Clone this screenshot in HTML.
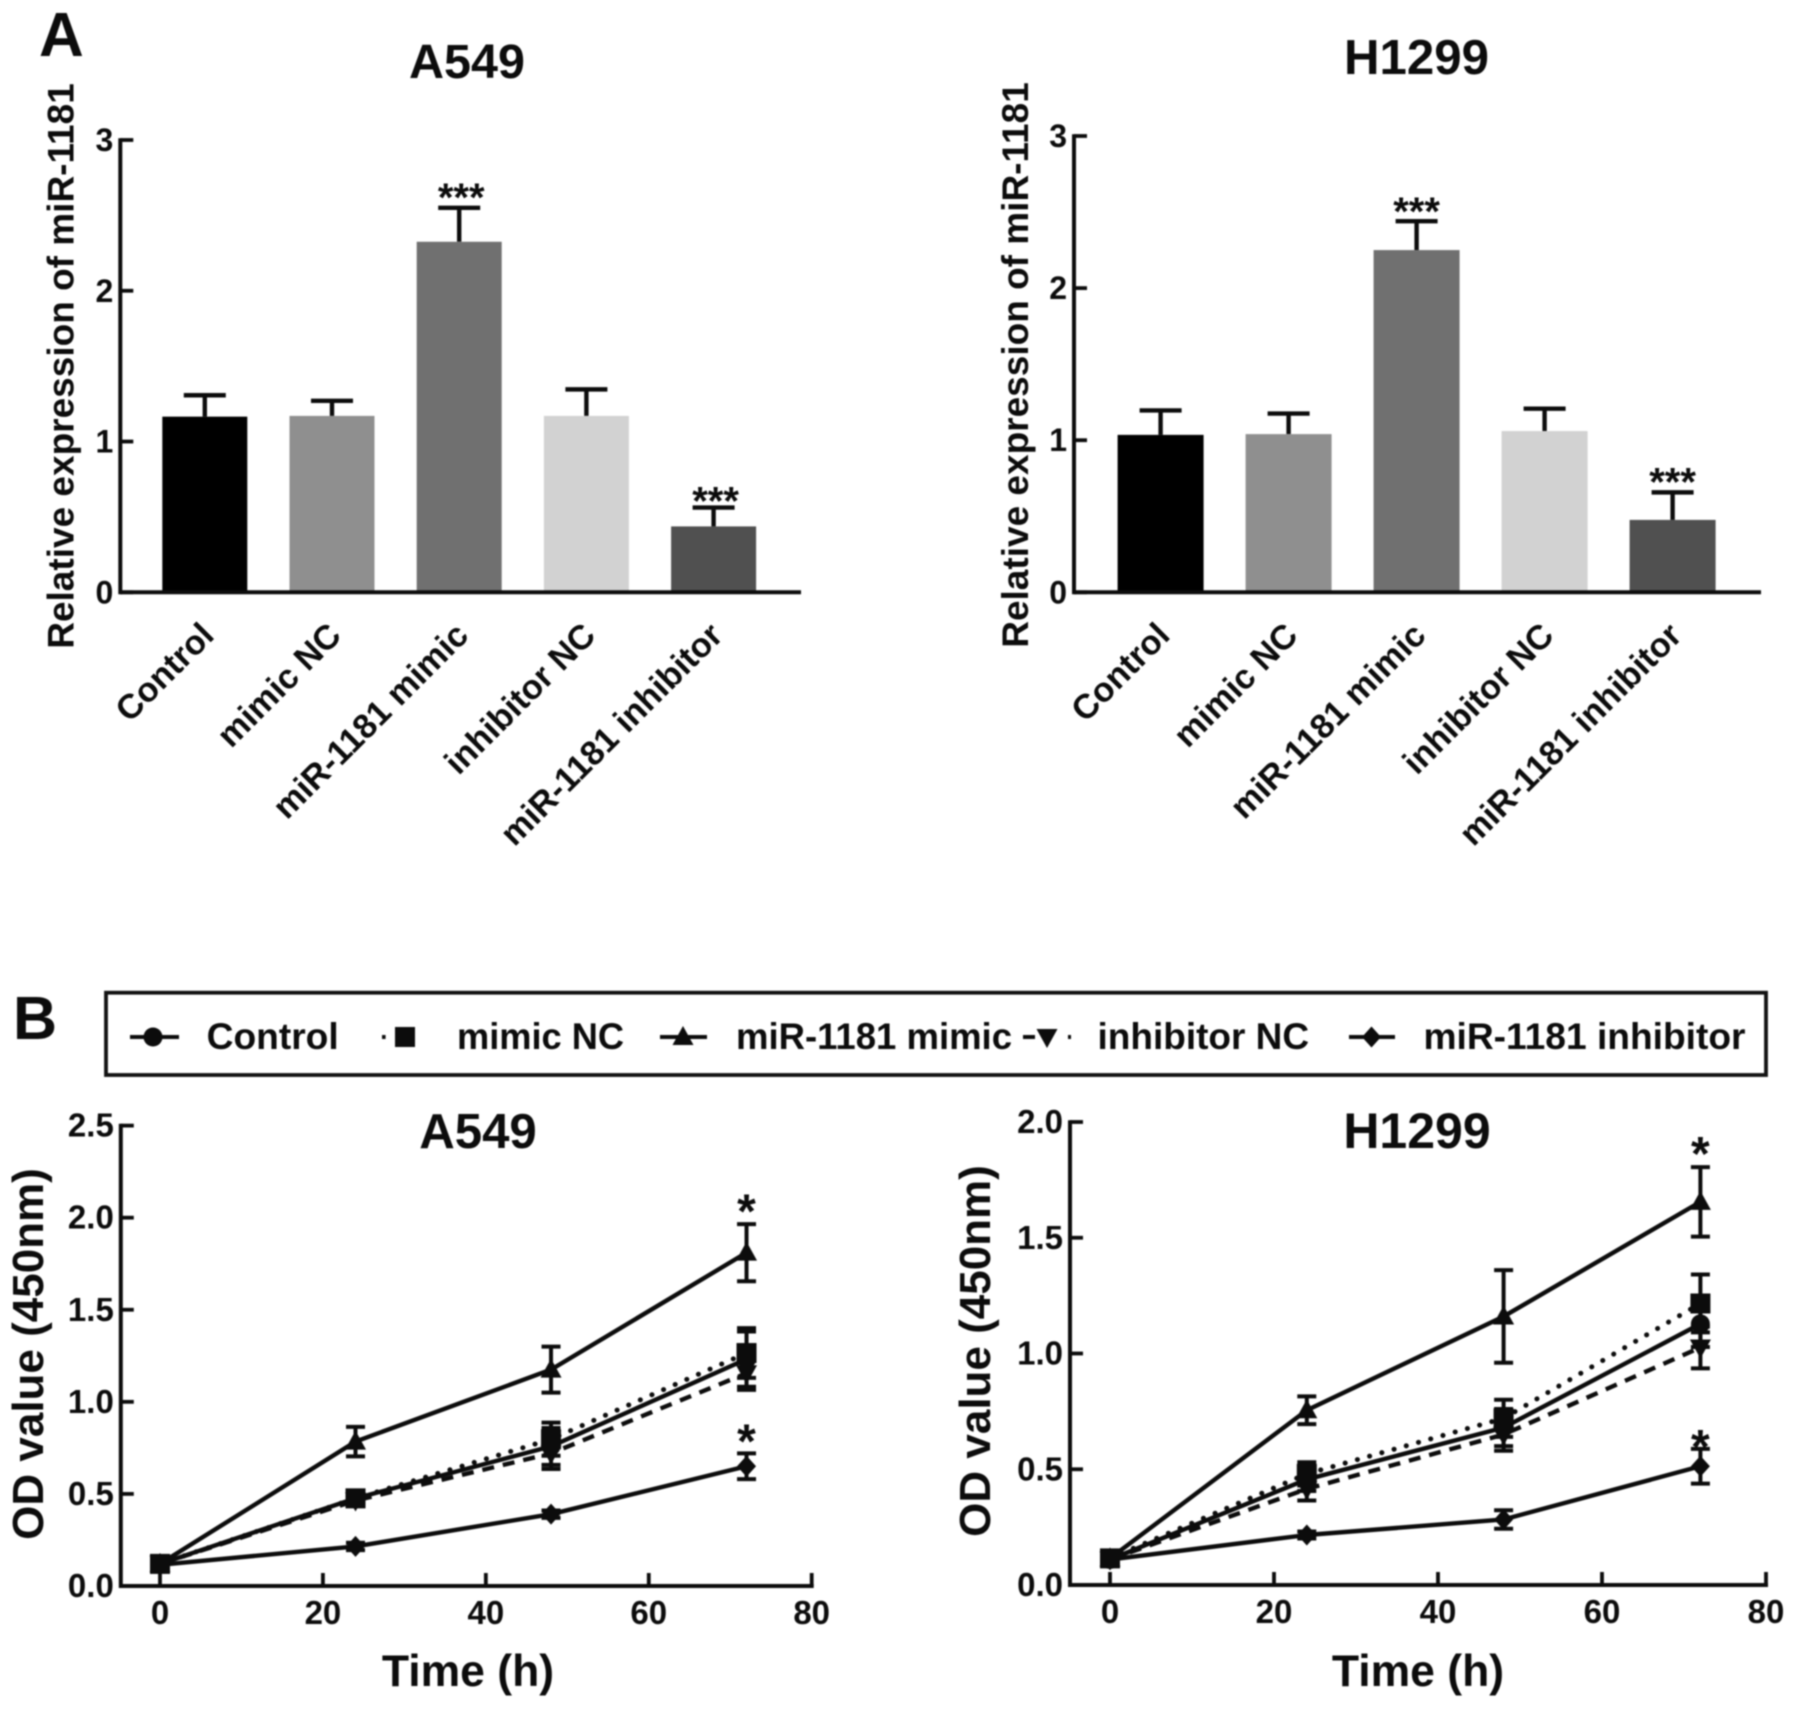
<!DOCTYPE html>
<html lang="en">
<head>
<meta charset="utf-8">
<title>miR-1181 expression and OD value charts</title>
<style>
  html, body { margin: 0; padding: 0; background: #fff; }
  #figure { display: block; filter: blur(0.7px); }
  text { font-family: "Liberation Sans", sans-serif; font-weight: bold; fill: #0c0c0c; }
</style>
</head>
<body>
<svg id="figure" xmlns="http://www.w3.org/2000/svg" width="1795" height="1709" viewBox="0 0 1795 1709">
  <rect x="0" y="0" width="1795" height="1709" fill="#fff"/>
  <text x="39" y="56" font-size="62">A</text>
  <text x="13" y="1039" font-size="61">B</text>

  <text x="467" y="78" font-size="48.5" text-anchor="middle">A549</text>
  <text x="1416.5" y="74" font-size="49.2" text-anchor="middle">H1299</text>
  <text x="478" y="1148" font-size="49.2" text-anchor="middle">A549</text>
  <text x="1417" y="1148" font-size="50" text-anchor="middle">H1299</text>

  <text transform="translate(73.5 366) rotate(-90)" font-size="37" text-anchor="middle">Relative expression of miR-1181</text>
  <text transform="translate(1028 365) rotate(-90)" font-size="37" text-anchor="middle">Relative expression of miR-1181</text>
  <text transform="translate(43 1354) rotate(-90)" font-size="44" text-anchor="middle">OD value (450nm)</text>
  <text transform="translate(990 1351) rotate(-90)" font-size="44" text-anchor="middle">OD value (450nm)</text>
  <text x="468" y="1686" font-size="44.5" text-anchor="middle">Time (h)</text>
  <text x="1418" y="1686" font-size="44.5" text-anchor="middle">Time (h)</text>

  <g>
    <rect x="106" y="992.7" width="1660" height="82.3" fill="none" stroke="#111" stroke-width="3.8"/>
    <g id="legend-entries"></g>
  </g>
  <g id="charts"></g>
</svg>

<script>
// ---- Bar chart data (panel A) ----
const barCategories = ['Control', 'mimic NC', 'miR-1181 mimic', 'inhibitor NC', 'miR-1181 inhibitor'];
const a549BarMeans = [1.165, 1.17, 2.325, 1.17, 0.437];
const a549BarErrors = [0.142, 0.1, 0.225, 0.176, 0.125];
const h1299BarMeans = [1.035, 1.04, 2.25, 1.06, 0.476];
const h1299BarErrors = [0.161, 0.135, 0.19, 0.147, 0.181];
const barTickLabels = [0, 1, 2, 3];
const a549BarStars = [null, null, 2.655, null, 0.64];
const h1299BarStars = [null, null, 2.54, null, 0.76];

// ---- Line chart data (panel B) ----
const timePoints = [0, 24, 48, 72];
const seriesNames = ['Control', 'mimic NC', 'miR-1181 mimic', 'inhibitor NC', 'miR-1181 inhibitor'];

const a549Control = [0.12, 0.476, 0.758, 1.232];
const a549MimicNC = [0.12, 0.476, 0.797, 1.265];
const a549Mimic = [0.12, 0.784, 1.175, 1.81];
const a549InhibitorNC = [0.12, 0.464, 0.72, 1.155];
const a549Inhibitor = [0.115, 0.215, 0.39, 0.65];
const a549ControlErr = [0.02, 0.03, 0.1, 0.15];
const a549MimicNCErr = [0.02, 0.03, 0.09, 0.135];
const a549MimicErr = [0.02, 0.08, 0.125, 0.155];
const a549InhibitorNCErr = [0.02, 0.03, 0.085, 0.09];
const a549InhibitorErr = [0.01, 0.02, 0.02, 0.07];
const a549LineStars = [null, null, 2.07, null, 0.82];

const h1299Control = [0.11, 0.456, 0.68, 1.128];
const h1299MimicNC = [0.115, 0.48, 0.72, 1.216];
const h1299Mimic = [0.115, 0.755, 1.16, 1.655];
const h1299InhibitorNC = [0.11, 0.415, 0.65, 1.026];
const h1299Inhibitor = [0.11, 0.216, 0.283, 0.513];
const h1299ControlErr = [0.02, 0.05, 0.08, 0.1];
const h1299MimicNCErr = [0.02, 0.05, 0.08, 0.125];
const h1299MimicErr = [0.02, 0.06, 0.2, 0.15];
const h1299InhibitorNCErr = [0.02, 0.05, 0.07, 0.09];
const h1299InhibitorErr = [0.01, 0.015, 0.04, 0.075];
const h1299LineStars = [null, null, null, null, 0.625];
const h1299TopStar = 1.89;

const odTickLabelsA549 = [0, 0.5, 1, 1.5, 2, 2.5];
const odTickLabelsH1299 = [0, 0.5, 1, 1.5, 2];
const timeTickLabels = [0, 20, 40, 60, 80];

// ---- Styles (not data) ----
const barFills = ['#000000', '#8f8f8f', '#707070', '#d2d2d2', '#505050'];
const seriesDash = ['', '0.1 12.6', '', '12 9', ''];
const seriesCap = ['butt', 'round', 'butt', 'butt', 'butt'];
const seriesShape = ['circle', 'square', 'triangle', 'down', 'diamond'];

const NS = 'http://www.w3.org/2000/svg';
const root = document.getElementById('charts');
const INK = '#0c0c0c';

function make(tag, parent, props) {
  const el = document.createElementNS(NS, tag);
  for (const k in props) el.setAttribute(k, props[k]);
  parent.appendChild(el);
  return el;
}

function line(parent, x1, y1, x2, y2, w) {
  return make('line', parent, { x1: x1, y1: y1, x2: x2, y2: y2, stroke: INK, 'stroke-width': w });
}

function marker(parent, shape, x, y) {
  const p = { fill: INK };
  let el;
  if (shape === 'circle') {
    el = make('circle', parent, Object.assign(p, { cx: x, cy: y, r: 9.5 }));
  } else if (shape === 'square') {
    el = make('rect', parent, Object.assign(p, { x: x - 10, y: y - 10, width: 20, height: 20 }));
  } else if (shape === 'triangle') {
    el = make('polygon', parent, Object.assign(p, { points: (x - 10.5) + ',' + (y + 8) + ' ' + (x + 10.5) + ',' + (y + 8) + ' ' + x + ',' + (y - 11) }));
  } else if (shape === 'down') {
    el = make('polygon', parent, Object.assign(p, { points: (x - 10.5) + ',' + (y - 8) + ' ' + (x + 10.5) + ',' + (y - 8) + ' ' + x + ',' + (y + 11) }));
  } else {
    el = make('polygon', parent, Object.assign(p, { points: (x - 9.5) + ',' + y + ' ' + x + ',' + (y - 10.5) + ' ' + (x + 9.5) + ',' + y + ' ' + x + ',' + (y + 10.5) }));
  }
  return el;
}

function star(parent, text, x, cy, size) {
  const t = make('text', parent, { x: x, y: cy + size * 0.47, 'font-size': size, 'text-anchor': 'middle' });
  t.textContent = text;
  
  
  return t;
}

function drawBarChart(cfg) {
  const g = make('g', root, {});
  
  
  const yScale = v => cfg.y0 + (cfg.yTop - cfg.y0) * v / 3;
  const xBand = i => cfg.first + cfg.step * i;

  barCategories.forEach((cat, i) => {
    const cx = xBand(i);
    const top = yScale(cfg.means[i]);
    const errTop = yScale(cfg.means[i] + cfg.errors[i]);
    const stem = line(g, cx, top, cx, errTop, 4.4);
    
    
    const cap = line(g, cx - 21, errTop, cx + 21, errTop, 4.4);
    
    
    const bar = make('rect', g, { x: cx - cfg.width / 2, y: top, width: cfg.width, height: cfg.y0 - top, fill: barFills[i] });
    
    
    const lx = cx + 11;
    const ly = cfg.y0 + 45;
    const label = make('text', g, { x: lx, y: ly, 'font-size': 34.3, 'text-anchor': 'end', transform: 'rotate(-45 ' + lx + ' ' + ly + ')' });
    label.textContent = cat;
    
    
    if (cfg.stars[i] !== null) star(g, '***', cx + cfg.starShift, yScale(cfg.stars[i]), 40);
  });

  barTickLabels.forEach(v => {
    const y = yScale(v);
    const tick = line(g, cfg.axisX, y, cfg.axisX + 13, y, 3.8);
    
    
    const lab = make('text', g, { x: cfg.axisX - 7, y: y + 11, 'font-size': 32, 'text-anchor': 'end' });
    lab.textContent = v;
    
    
  });

  const yAxis = line(g, cfg.axisX, yScale(3) - 1.8, cfg.axisX, cfg.y0 + 2, 4);
  
  
  const xAxis = line(g, cfg.axisX, cfg.y0, cfg.axisEnd, cfg.y0, 4);
  
  
}

function drawLineChart(cfg) {
  const g = make('g', root, {});
  
  
  const xScale = t => cfg.x0 + (cfg.x80 - cfg.x0) * t / 80;
  const yScale = v => cfg.y0 + (cfg.yTop - cfg.y0) * v / cfg.yMax;

  cfg.series.forEach((values, s) => {
    const pts = timePoints.map((t, i) => xScale(t) + ',' + yScale(values[i])).join(' ');
    const pl = make('polyline', g, { points: pts, fill: 'none', stroke: INK, 'stroke-width': 4.4, 'stroke-linecap': seriesCap[s], 'stroke-linejoin': 'round' });
    if (seriesDash[s]) pl.setAttribute('stroke-dasharray', seriesDash[s]);
    if (seriesCap[s] === 'round') pl.setAttribute('stroke-width', 5);
    
    
    timePoints.forEach((t, i) => {
      const x = xScale(t);
      const v = values[i];
      const e = cfg.errors[s][i];
      const hi = yScale(v + e);
      const lo = yScale(v - e);
      const stem = line(g, x, hi, x, lo, 4);
      
      
      const capTop = line(g, x - 9.5, hi, x + 9.5, hi, 4);
      
      
      const capBot = line(g, x - 9.5, lo, x + 9.5, lo, 4);
      
      
      const m = marker(g, seriesShape[s], x, yScale(v));
      
      
    });
  });

  cfg.yTicks.forEach(v => {
    const y = yScale(v);
    const tick = line(g, cfg.axisX, y, cfg.axisX + 13, y, 3.8);
    
    
    const lab = make('text', g, { x: cfg.axisX - 7, y: y + 11, 'font-size': 33, 'text-anchor': 'end' });
    lab.textContent = v.toFixed(1);
    
    
  });

  timeTickLabels.forEach(t => {
    const x = xScale(t);
    const tick = line(g, x, cfg.y0, x, cfg.y0 - 13, 3.8);
    
    
    const lab = make('text', g, { x: x, y: cfg.y0 + 38, 'font-size': 33, 'text-anchor': 'middle' });
    lab.textContent = t;
    
    
  });

  const yAxis = line(g, cfg.axisX, cfg.yTop - 1.8, cfg.axisX, cfg.y0 + 2, 4);
  
  
  const xAxis = line(g, cfg.axisX, cfg.y0, xScale(80) + 2, cfg.y0, 4);
  
  

  cfg.stars.forEach(v => { star(g, '*', xScale(72), yScale(v), 48); });
}

function drawLegend() {
  const g = document.getElementById('legend-entries');
  const lineLeft = [130, 382, 660, 1023, 1349];
  const lineRight = [179, 425, 707, 1071, 1395];
  const markerX = [153, 405, 683, 1047, 1371.5];
  const textX = [206.7, 457, 736, 1097.5, 1423.5];
  const textLen = [132, 167, 276, 211.6, 322];
  const legendDash = ['', '3.6 39.4', '', '12 33 3', ''];
  seriesNames.forEach((name, s) => {
    const entry = make('g', g, {});
    
    
    const l = line(entry, lineLeft[s], 1037, lineRight[s], 1037, 4);
    if (legendDash[s]) l.setAttribute('stroke-dasharray', legendDash[s]);
    
    
    const m = marker(entry, seriesShape[s], markerX[s], 1037);
    
    
    const t = make('text', entry, { x: textX[s], y: 1049, 'font-size': 36.6, textLength: textLen[s], lengthAdjust: 'spacingAndGlyphs' });
    t.textContent = name;
    
    
  });
}

drawBarChart({ name: 'a549-bar-chart', means: a549BarMeans, errors: a549BarErrors, stars: a549BarStars, starShift: 2,
  first: 204.8, step: 127.2, width: 85, y0: 592.3, yTop: 140, axisX: 120.3, axisEnd: 801 });
drawBarChart({ name: 'h1299-bar-chart', means: h1299BarMeans, errors: h1299BarErrors, stars: h1299BarStars, starShift: 0,
  first: 1160.6, step: 128, width: 86, y0: 592.3, yTop: 136, axisX: 1074, axisEnd: 1761 });

drawLineChart({ name: 'a549-line-chart', x0: 160, x80: 811.7, y0: 1586, yTop: 1125.6, yMax: 2.5, axisX: 120.8,
  series: [a549Control, a549MimicNC, a549Mimic, a549InhibitorNC, a549Inhibitor],
  errors: [a549ControlErr, a549MimicNCErr, a549MimicErr, a549InhibitorNCErr, a549InhibitorErr],
  yTicks: odTickLabelsA549, stars: a549LineStars.filter(v => v !== null) });
drawLineChart({ name: 'h1299-line-chart', x0: 1110, x80: 1766, y0: 1585, yTop: 1122, yMax: 2, axisX: 1070,
  series: [h1299Control, h1299MimicNC, h1299Mimic, h1299InhibitorNC, h1299Inhibitor],
  errors: [h1299ControlErr, h1299MimicNCErr, h1299MimicErr, h1299InhibitorNCErr, h1299InhibitorErr],
  yTicks: odTickLabelsH1299, stars: h1299LineStars.filter(v => v !== null).concat([h1299TopStar]) });

drawLegend();
</script>
</body>
</html>
